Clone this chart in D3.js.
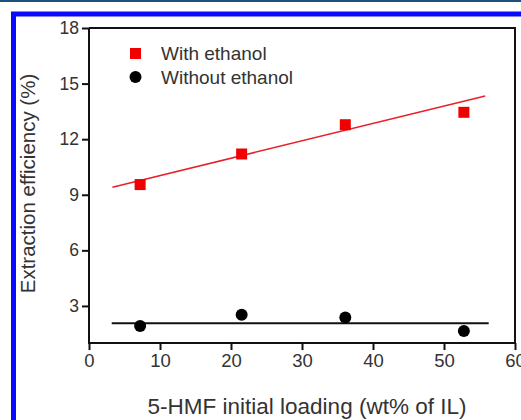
<!DOCTYPE html>
<html>
<head>
<meta charset="utf-8">
<script src="https://cdn.jsdelivr.net/npm/d3@7"></script>
<style>
  body { margin: 0; background: #fff; }
  svg { display: block; font-family: "Liberation Sans", Arial, sans-serif; }
</style>
</head>
<body>
<div id="chart"></div>
<script>
// data
var loading = [7.2, 21.5, 36.1, 52.8];
var withEthanol = [9.55, 11.2, 12.78, 13.45];
var withoutEthanol = [1.92, 2.52, 2.37, 1.65];
// fitted lines (end points)
var fitX = [3.3, 55.8];
var fitWith = [9.41, 14.33];
var fitXWithout = [3.2, 56.3];
var fitWithout = [2.07, 2.07];
var xTicks = [0, 10, 20, 30, 40, 50, 60];
var yTicks = [3, 6, 9, 12, 15, 18];
var seriesNames = ["With ethanol", "Without ethanol"];

var width = 521, height = 420;
var plot = { left: 89, right: 515, top: 28, bottom: 343 };

var svg = d3.select("#chart").append("svg")
  .attr("width", width)
  .attr("height", height);

// journal frame
svg.append("rect")
  .attr("x", 0).attr("y", 0).attr("width", width).attr("height", 2)
  .attr("fill", "#1f4f80");
svg.append("path")
  .attr("d", "M13.5,420 V14 H521")
  .attr("fill", "none")
  .attr("stroke", "#0a0aff")
  .attr("stroke-width", 5);

var x = d3.scaleLinear().domain([0, 60]).range([plot.left, plot.right]);
var y = d3.scaleLinear().domain([1, 18]).range([plot.bottom, plot.top]);

// box
svg.append("path")
  .attr("d", `M${plot.left},${plot.top} H${plot.right} V${plot.bottom}`)
  .attr("fill", "none")
  .attr("stroke", "#111")
  .attr("stroke-width", 2);

var yAxis = svg.append("g")
  .attr("transform", `translate(${plot.left},0)`)
  .call(d3.axisLeft(y).tickValues(yTicks).tickSize(7).tickPadding(3).tickSizeOuter(0));
yAxis.selectAll("text").attr("font-size", 17.5).attr("fill", "#333").attr("font-family", "Liberation Sans, Arial, sans-serif");

var xAxis = svg.append("g")
  .attr("transform", `translate(0,${plot.bottom})`)
  .call(d3.axisBottom(x).tickValues(xTicks).tickSize(7).tickPadding(4).tickSizeOuter(0));
xAxis.selectAll("text").attr("font-size", 18.5).attr("fill", "#333").attr("font-family", "Liberation Sans, Arial, sans-serif");

svg.selectAll(".domain, .tick line")
  .attr("stroke", "#111")
  .attr("stroke-width", 2);
yAxis.select(".domain").attr("d", `M0,${plot.bottom + 1}V${plot.top}`);
xAxis.select(".domain").attr("d", `M${plot.left - 1},0H${plot.right}`);

// fitted lines
var line = d3.line().x(d => x(d[0])).y(d => y(d[1]));
svg.append("path")
  .attr("d", line(d3.zip(fitX, fitWith)))
  .attr("stroke", "#e8202a")
  .attr("stroke-width", 1.6)
  .attr("fill", "none");
svg.append("path")
  .attr("d", line(d3.zip(fitXWithout, fitWithout)))
  .attr("stroke", "#111")
  .attr("stroke-width", 2)
  .attr("fill", "none");

// points
svg.selectAll(".sq")
  .data(d3.zip(loading, withEthanol))
  .enter()
  .append("rect")
  .attr("x", d => x(d[0]) - 5.5)
  .attr("y", d => y(d[1]) - 5.5)
  .attr("width", 11)
  .attr("height", 11)
  .attr("fill", "#f00000");
svg.selectAll(".dot")
  .data(d3.zip(loading, withoutEthanol))
  .enter()
  .append("circle")
  .attr("cx", d => x(d[0]))
  .attr("cy", d => y(d[1]))
  .attr("r", 6)
  .attr("fill", "#000");

// legend
svg.append("rect")
  .attr("x", 130).attr("y", 48).attr("width", 11).attr("height", 11)
  .attr("fill", "#f00000");
svg.append("circle")
  .attr("cx", 135.5).attr("cy", 77).attr("r", 6)
  .attr("fill", "#000");
svg.selectAll(".leg")
  .data(seriesNames)
  .enter()
  .append("text")
  .attr("x", 161)
  .attr("y", (d, i) => 59.5 + i * 24)
  .attr("font-size", 19)
  .attr("fill", "#333")
  .text(d => d);

// axis titles
svg.append("text")
  .attr("transform", `translate(35,${(plot.top + plot.bottom) / 2 - 2}) rotate(-90)`)
  .attr("text-anchor", "middle")
  .attr("font-size", 20.5)
  .attr("fill", "#333")
  .text("Extraction efficiency (%)");
svg.append("text")
  .attr("x", 307)
  .attr("y", 414)
  .attr("text-anchor", "middle")
  .attr("font-size", 22.5)
  .attr("fill", "#333")
  .text("5-HMF initial loading (wt% of IL)");
</script>
</body>
</html>
